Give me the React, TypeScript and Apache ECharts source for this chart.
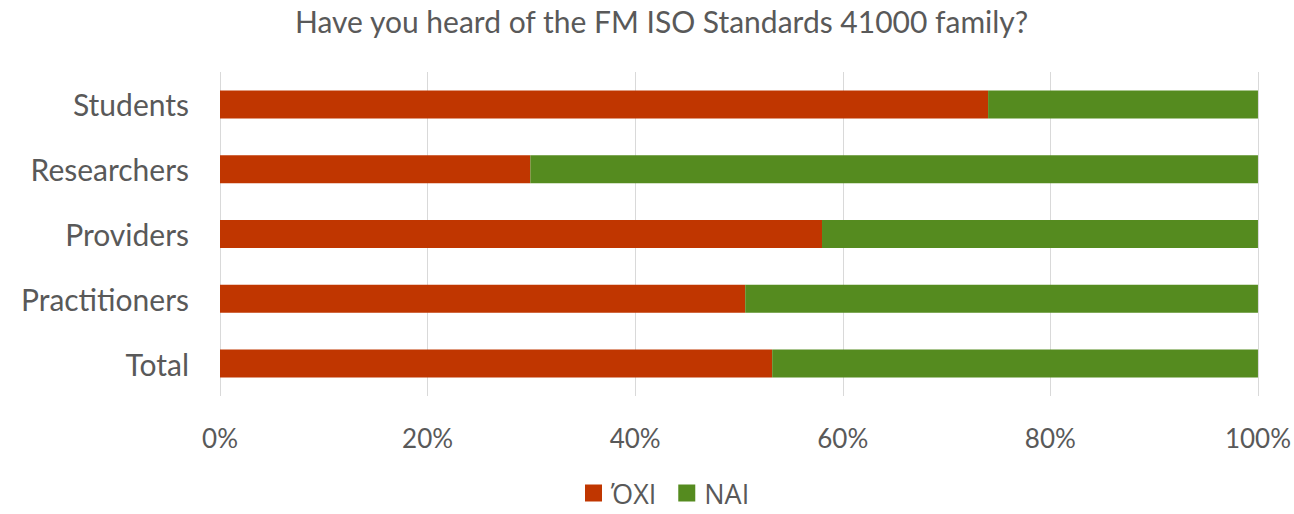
import React, { useEffect, useRef } from "react";
import * as echarts from "echarts";

const categories = ["Total", "Practitioners", "Providers", "Researchers", "Students"];
const oxiValues = [53.2, 50.6, 58.0, 29.9, 74.0];
const naiValues = [46.8, 49.4, 42.0, 70.1, 26.0];
const seriesNames = ["ΌΧΙ", "ΝΑΙ"];
const titleText = "Have you heard of the FM ISO Standards 41000 family?";

export default function App() {
  const ref = useRef<HTMLDivElement>(null);
  useEffect(() => {
    const chart = echarts.init(ref.current!, null, { renderer: "svg" });
    const font = "Lato, 'Open Sans', sans-serif";
    chart.setOption({
      animation: false,
      textStyle: { fontFamily: font },
      title: {
        text: titleText,
        left: 290,
        top: 1,
        textStyle: { fontFamily: font, fontSize: 30, fontWeight: "normal", color: "#595959" },
      },
      legend: {
        top: 474,
        left: 580,
        itemWidth: 17,
        itemHeight: 17,
        itemGap: 22,
        icon: "rect",
        textStyle: { fontFamily: "'Open Sans', sans-serif", fontSize: 27, lineHeight: 28, color: "#595959", padding: [0, 0, 0, 4] },
        data: seriesNames,
      },
      grid: { left: 220, right: 35, top: 72, bottom: 118 },
      xAxis: {
        type: "value",
        min: 0,
        max: 100,
        interval: 20,
        axisLine: { show: false },
        axisTick: { show: false },
        splitLine: { lineStyle: { color: "#d9d9d9", width: 1 } },
        axisLabel: {
          formatter: "{value}%",
          fontFamily: font,
          fontSize: 26,
          color: "#595959",
          margin: 29,
        },
      },
      yAxis: {
        type: "category",
        data: categories,
        axisLine: { show: false },
        axisTick: { show: false },
        axisLabel: { fontFamily: font, fontSize: 30, color: "#595959", margin: 31 },
      },
      series: [
        {
          name: seriesNames[0],
          type: "bar",
          stack: "total",
          barWidth: 28,
          data: oxiValues,
          itemStyle: { color: "#c03600" },
        },
        {
          name: seriesNames[1],
          type: "bar",
          stack: "total",
          barWidth: 28,
          data: naiValues,
          itemStyle: { color: "#558b1f" },
        },
      ],
    });
    return () => chart.dispose();
  }, []);
  return (
    <div
      ref={ref}
      style={{ position: "absolute", left: 0, top: 0, width: 1294, height: 514 }}
    />
  );
}
